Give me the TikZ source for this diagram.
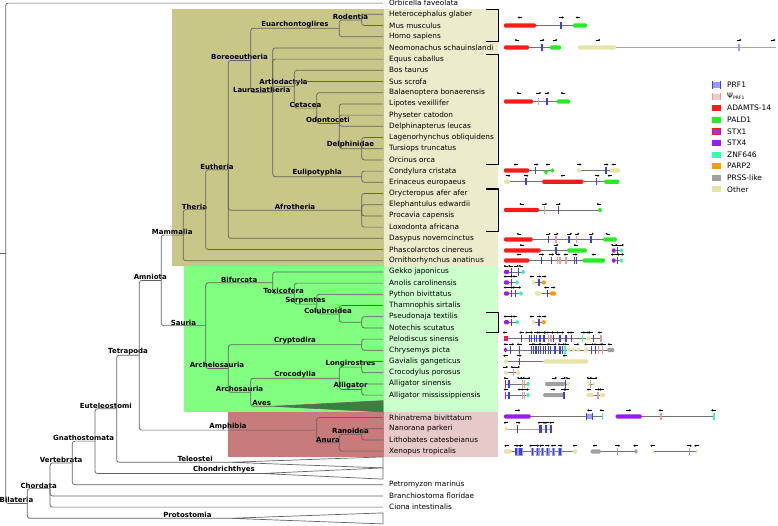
\documentclass[tikz,border=0pt]{standalone}
\usepackage{fontspec}
\setmainfont{DejaVu Sans}
\usetikzlibrary{calc,positioning,arrows.meta}
\definecolor{mamD}{HTML}{C9C787}
\definecolor{mamL}{HTML}{ECEBCB}
\definecolor{sauD}{HTML}{80FF80}
\definecolor{sauL}{HTML}{CCFFCC}
\definecolor{amphD}{HTML}{C77B7B}
\definecolor{amphL}{HTML}{E8C9C9}
\definecolor{avesC}{HTML}{3D7D3D}
\definecolor{prf}{HTML}{3C3CFF}
\definecolor{prfl}{HTML}{9A9AFF}
\definecolor{psi}{HTML}{E89A9A}
\definecolor{psil}{HTML}{F3CACA}
\definecolor{adam}{HTML}{FF1A1A}
\definecolor{pald}{HTML}{22EE22}
\definecolor{stxa}{HTML}{9933EE}
\definecolor{stxb}{HTML}{9A1AFF}
\definecolor{znf}{HTML}{33FFAA}
\definecolor{parp}{HTML}{FF9A00}
\definecolor{prss}{HTML}{A0A0A0}
\definecolor{oth}{HTML}{E6E4A6}
\newcommand{\gln}[3]{\draw[gline] (#1,#3) -- (#2,#3);}
\newcommand{\gbx}[4]{\fill[#1,rounded corners=1.2pt] (#2,#4-2.1) rectangle (#3,#4+2.1);}
\newcommand{\gmk}[3]{\fill[#1] (#2-0.75,#3-3.6) rectangle (#2+0.75,#3+3.6);}
\newcommand{\gR}[2]{\draw[garr] (#1-2.4,#2) -- (#1+2.4,#2);}
\newcommand{\gL}[2]{\draw[garr] (#1+2.4,#2) -- (#1-2.4,#2);}

\begin{document}
\begin{tikzpicture}[x=1pt,y=-1pt]
  \tikzset{br/.style={draw=black!62,line width=0.7pt,rounded corners=2.5pt},
    leaf/.style={anchor=west,inner xsep=6pt,inner ysep=0.5pt,font=\fontsize{7.3}{8}\selectfont},
    clab/.style={above=-0.4pt,inner sep=0.5pt,font=\fontsize{7}{8}\selectfont\bfseries},
    gline/.style={draw=black!55,line width=0.7pt},
    garr/.style={-{Latex[length=1.7pt,width=2.4pt]},line width=0.45pt},
    brk/.style={line width=1.3pt},
    tri/.style={draw=black!60,line width=0.7pt,fill=white},
    lgd/.style={anchor=west,inner sep=0.5pt,font=\fontsize{7.5}{8}\selectfont}}
  \useasboundingbox (0,0) rectangle (778,525);
  \fill[mamD] (172,8.7) rectangle (384,266.3);
  \fill[mamL] (384,8.7) rectangle (498,266.3);
  \fill[sauD] (183.5,266.3) rectangle (384,411.9);
  \fill[sauL] (384,266.3) rectangle (498,411.9);
  \fill[amphD] (228,411.9) rectangle (384,456.7);
  \fill[amphL] (384,411.9) rectangle (498,456.7);

  \node[leaf] (ofav) at (383,3.1) {Orbicella faveolata};
  \node[leaf] (hgla) at (383,14.3) {Heterocephalus glaber};
  \node[leaf] (mmus) at (383,25.5) {Mus musculus};
  \node[leaf] (hsap) at (383,36.7) {Homo sapiens};
  \node[leaf] (nsch) at (383,47.9) {Neomonachus schauinslandi};
  \node[leaf] (ecab) at (383,59.1) {Equus caballus};
  \node[leaf] (btau) at (383,70.3) {Bos taurus};
  \node[leaf] (sscr) at (383,81.5) {Sus scrofa};
  \node[leaf] (bbon) at (383,92.7) {Balaenoptera bonaerensis};
  \node[leaf] (lvex) at (383,103.9) {Lipotes vexillifer};
  \node[leaf] (pcat) at (383,115.1) {Physeter catodon};
  \node[leaf] (dleu) at (383,126.3) {Delphinapterus leucas};
  \node[leaf] (lobl) at (383,137.5) {Lagenorhynchus obliquidens};
  \node[leaf] (ttru) at (383,148.7) {Tursiops truncatus};
  \node[leaf] (oorc) at (383,159.9) {Orcinus orca};
  \node[leaf] (ccri) at (383,171.1) {Condylura cristata};
  \node[leaf] (eeur) at (383,182.3) {Erinaceus europaeus};
  \node[leaf] (oafe) at (383,193.5) {Orycteropus afer afer};
  \node[leaf] (eedw) at (383,204.7) {Elephantulus edwardii};
  \node[leaf] (pcap) at (383,215.9) {Procavia capensis};
  \node[leaf] (lafr) at (383,227.1) {Loxodonta africana};
  \node[leaf] (dnov) at (383,238.3) {Dasypus novemcinctus};
  \node[leaf] (pcin) at (383,249.5) {Phascolarctos cinereus};
  \node[leaf] (oana) at (383,260.7) {Ornithorhynchus anatinus};
  \node[leaf] (gjap) at (383,271.9) {Gekko japonicus};
  \node[leaf] (acar) at (383,283.1) {Anolis carolinensis};
  \node[leaf] (pbiv) at (383,294.3) {Python bivittatus};
  \node[leaf] (tsir) at (383,305.5) {Thamnophis sirtalis};
  \node[leaf] (ptex) at (383,316.7) {Pseudonaja textilis};
  \node[leaf] (nscu) at (383,327.9) {Notechis scutatus};
  \node[leaf] (psin) at (383,339.1) {Pelodiscus sinensis};
  \node[leaf] (cpic) at (383,350.3) {Chrysemys picta};
  \node[leaf] (ggan) at (383,361.5) {Gavialis gangeticus};
  \node[leaf] (cpor) at (383,372.7) {Crocodylus porosus};
  \node[leaf] (asin) at (383,383.9) {Alligator sinensis};
  \node[leaf] (amis) at (383,395.1) {Alligator mississippiensis};
  \node[leaf] (rbiv) at (383,417.5) {Rhinatrema bivittatum};
  \node[leaf] (npar) at (383,428.7) {Nanorana parkeri};
  \node[leaf] (lcat) at (383,439.9) {Lithobates catesbeianus};
  \node[leaf] (xtro) at (383,451.1) {Xenopus tropicalis};
  \node[leaf] (pmar) at (383,484.7) {Petromyzon marinus};
  \node[leaf] (bflo) at (383,495.9) {Branchiostoma floridae};
  \node[leaf] (cint) at (383,507.1) {Ciona intestinalis};

  \coordinate (stub) at (0,253.3);
  \coordinate (root) at (5.7,253.3);
  \coordinate (bila) at (27.3,503.5);
  \coordinate (chor) at (50,488.6);
  \coordinate (vert) at (72.3,462.9);
  \coordinate (gnat) at (95,441.1);
  \coordinate (eute) at (116.7,408.8);
  \coordinate (tetr) at (139.3,355.2);
  \coordinate (amni) at (161.2,280.4);
  \coordinate (mamm) at (183.3,235.1);
  \coordinate (ther) at (205.7,209.6);
  \coordinate (euth) at (228.3,169.7);
  \coordinate (bore) at (250.7,60.45);
  \coordinate (euar) at (339.3,28.3);
  \coordinate (rode) at (361.7,19.9);
  \coordinate (laur) at (272.7,92.6);
  \coordinate (arti) at (294.3,86.6);
  \coordinate (ceta) at (316.7,108.1);
  \coordinate (odon) at (339.3,123.5);
  \coordinate (delp) at (361.7,148.7);
  \coordinate (euli) at (361.7,176.7);
  \coordinate (afro) at (361.7,210.3);
  \coordinate (saur) at (205.7,325.6);
  \coordinate (bifu) at (272.7,282.75);
  \coordinate (toxi) at (294.3,293.6);
  \coordinate (serp) at (316.7,304.1);
  \coordinate (colu) at (339.3,313.9);
  \coordinate (elap) at (361.7,322.3);
  \coordinate (arch) at (228.3,368.5);
  \coordinate (cryp) at (361.7,344.7);
  \coordinate (arco) at (250.7,392.3);
  \coordinate (croc) at (339.3,378.3);
  \coordinate (long) at (361.7,367.1);
  \coordinate (alli) at (361.7,389.5);
  \coordinate (aves) at (272.7,406.3);
  \coordinate (amph) at (316.7,430.1);
  \coordinate (anur) at (339.3,442.7);
  \coordinate (rano) at (361.7,434.3);
  \coordinate (tele) at (230,462.3);
  \coordinate (chon) at (262,473.5);
  \coordinate (prot) at (230,518.3);

  \draw[tri,fill=avesC] (aves) -- (383,400.7) -- (383,411.9) -- cycle;
  \draw[tri] (tele) -- (383,456.9) -- (383,467.9) -- cycle;
  \draw[tri] (chon) -- (383,467.9) -- (383,479.1) -- cycle;
  \draw[tri] (prot) -- (383,512.9) -- (383,523.9) -- cycle;

  \draw[br] (stub) -- (root);
  \draw[br] (root) |- (ofav);
  \draw[br] (root) |- node[clab,pos=0.75]{Bilateria} (bila);
  \draw[br] (bila) |- node[clab,pos=0.75]{Chordata} (chor);
  \draw[br] (bila) |- node[clab,pos=0.895]{Protostomia} (prot);
  \draw[br] (chor) |- node[clab,pos=0.75]{Vertebrata} (vert);
  \draw[br] (chor) |- (bflo);
  \draw[br] (chor) |- (cint);
  \draw[br] (vert) |- node[clab,pos=0.75]{Gnathostomata} (gnat);
  \draw[br] (vert) |- (pmar);
  \draw[br] (gnat) |- node[clab,pos=0.75]{Euteleostomi} (eute);
  \draw[br] (gnat) |- node[clab,pos=0.886]{Chondrichthyes} (chon);
  \draw[br] (eute) |- node[clab,pos=0.75]{Tetrapoda} (tetr);
  \draw[br] (eute) |- node[clab,pos=0.846]{Teleostei} (tele);
  \draw[br] (tetr) |- node[clab,pos=0.75]{Amniota} (amni);
  \draw[br] (tetr) |- node[clab,pos=0.75]{Amphibia} (amph);
  \draw[br] (amni) |- node[clab,pos=0.75]{Mammalia} (mamm);
  \draw[br] (amni) |- node[clab,pos=0.75]{Sauria} (saur);
  \draw[br] (mamm) |- node[clab,pos=0.75]{Theria} (ther);
  \draw[br] (mamm) |- (oana);
  \draw[br] (ther) |- node[clab,pos=0.75]{Eutheria} (euth);
  \draw[br] (ther) |- (pcin);
  \draw[br] (euth) |- node[clab,pos=0.75]{Boreoeutheria} (bore);
  \draw[br] (euth) |- node[clab,pos=0.75]{Afrotheria} (afro);
  \draw[br] (euth) |- (dnov);
  \draw[br] (bore) |- node[clab,pos=0.75]{Euarchontoglires} (euar);
  \draw[br] (bore) |- node[clab,pos=0.75]{Laurasiatheria} (laur);
  \draw[br] (euar) |- node[clab,pos=0.75]{Rodentia} (rode);
  \draw[br] (euar) |- (hsap);
  \draw[br] (rode) |- (hgla);
  \draw[br] (rode) |- (mmus);
  \draw[br] (laur) |- (nsch);
  \draw[br] (laur) |- (ecab);
  \draw[br] (laur) |- node[clab,pos=0.75]{Artiodactyla} (arti);
  \draw[br] (laur) |- node[clab,pos=0.75]{Eulipotyphla} (euli);
  \draw[br] (arti) |- (btau);
  \draw[br] (arti) |- (sscr);
  \draw[br] (arti) |- node[clab,pos=0.75]{Cetacea} (ceta);
  \draw[br] (ceta) |- (bbon);
  \draw[br] (ceta) |- node[clab,pos=0.75]{Odontoceti} (odon);
  \draw[br] (odon) |- (lvex);
  \draw[br] (odon) |- (pcat);
  \draw[br] (odon) |- (dleu);
  \draw[br] (odon) |- node[clab,pos=0.75]{Delphinidae} (delp);
  \draw[br] (delp) |- (lobl);
  \draw[br] (delp) |- (ttru);
  \draw[br] (delp) |- (oorc);
  \draw[br] (euli) |- (ccri);
  \draw[br] (euli) |- (eeur);
  \draw[br] (afro) |- (oafe);
  \draw[br] (afro) |- (eedw);
  \draw[br] (afro) |- (pcap);
  \draw[br] (afro) |- (lafr);
  \draw[br] (saur) |- node[clab,pos=0.75]{Bifurcata} (bifu);
  \draw[br] (saur) |- node[clab,pos=0.75]{Archelosauria} (arch);
  \draw[br] (bifu) |- (gjap);
  \draw[br] (bifu) |- node[clab,pos=0.75]{Toxicofera} (toxi);
  \draw[br] (toxi) |- (acar);
  \draw[br] (toxi) |- node[clab,pos=0.75]{Serpentes} (serp);
  \draw[br] (serp) |- (pbiv);
  \draw[br] (serp) |- node[clab,pos=0.75]{Colubroidea} (colu);
  \draw[br] (colu) |- (tsir);
  \draw[br] (colu) |- (elap);
  \draw[br] (elap) |- (ptex);
  \draw[br] (elap) |- (nscu);
  \draw[br] (arch) |- node[clab,pos=0.75]{Cryptodira} (cryp);
  \draw[br] (arch) |- node[clab,pos=0.75]{Archosauria} (arco);
  \draw[br] (cryp) |- (psin);
  \draw[br] (cryp) |- (cpic);
  \draw[br] (arco) |- node[clab,pos=0.75]{Crocodylia} (croc);
  \draw[br] (arco) |- node[clab,pos=0.75]{Aves} (aves);
  \draw[br] (croc) |- node[clab,pos=0.75]{Longirostres} (long);
  \draw[br] (croc) |- node[clab,pos=0.75]{Alligator} (alli);
  \draw[br] (long) |- (ggan);
  \draw[br] (long) |- (cpor);
  \draw[br] (alli) |- (asin);
  \draw[br] (alli) |- (amis);
  \draw[br] (amph) |- (rbiv);
  \draw[br] (amph) |- node[clab,pos=0.75]{Anura} (anur);
  \draw[br] (anur) |- node[clab,pos=0.75]{Ranoidea} (rano);
  \draw[br] (anur) |- (xtro);
  \draw[br] (rano) |- (npar);
  \draw[br] (rano) |- (lcat);

  \draw[brk] (486,9.8) -- (498.5,9.8) -- (498.5,41.2) -- (486,41.2);
  \draw[brk] (486,54.6) -- (498.5,54.6) -- (498.5,164.4) -- (486,164.4);
  \draw[brk] (486,189) -- (498.5,189) -- (498.5,231.6) -- (486,231.6);
  \draw[brk] (486,312.2) -- (498.5,312.2) -- (498.5,332.4) -- (486,332.4);

  \gln{504}{587}{25.5}
  \gbx{adam}{504}{536}{25.5}\gmk{prf}{561}{25.5}\gbx{pald}{573}{587}{25.5}
  \gL{520}{17.5}\gR{561.5}{17.5}\gL{578}{17.5}

  \gln{504}{561}{47.5}
  \draw[gline,draw=black!35] (578,47.5) -- (776,47.5);
  \gbx{adam}{504}{529}{47.5}\gmk{prf}{542}{47.5}\gbx{pald}{550}{561}{47.5}
  \gbx{oth}{578}{616}{47.5}\gmk{prfl}{739}{47.5}
  \gL{517}{40}\gR{542}{40}\gR{555}{40}\gR{598}{40}\gR{739}{40}\gR{773}{40}

  \gln{504}{570}{101.5}
  \gbx{adam}{504}{533}{101.5}\gmk{psi}{538.7}{101.5}\gmk{prf}{547}{101.5}\gbx{pald}{556.7}{570}{101.5}
  \gL{519}{93}\gR{538.7}{93}\gR{547}{93}\gL{563}{93}

  \gln{504}{553}{170.5}
  \gbx{adam}{504}{529.3}{170.5}\gmk{prf}{535.7}{170.5}
  \fill[pald] (543,170.5) -- (549,170.5) -- (546,175) -- cycle;
  \gbx{pald}{551}{554}{170.5}
  \gln{577}{620}{170.5}
  \gbx{oth}{577}{581}{170.5}\gmk{prf}{606}{170.5}\gbx{oth}{610}{620}{170.5}
  \gL{516}{164.5}\gR{536}{164.5}\gL{548}{164.5}\gR{579}{164.5}\gR{606}{164.5}\gL{614}{164.5}

  \gln{504}{619}{181.7}
  \gbx{oth}{504}{510}{181.7}\gmk{prf}{526}{181.7}\gbx{adam}{542.3}{583.3}{181.7}
  \gmk{prf}{596.7}{181.7}\gbx{pald}{604.3}{619.3}{181.7}
  \gR{508}{175.7}\gR{526}{175.7}\gL{563}{175.7}\gR{597}{175.7}\gL{610}{175.7}

  \gln{504}{601.7}{210}
  \gbx{adam}{504}{539}{210}\gmk{psi}{544.3}{210}\gmk{prf}{558.3}{210}\gbx{pald}{598.3}{601.7}{210}
  \gL{521.7}{204}\gR{544.7}{204}\gR{558.3}{204}\gL{599}{204}

  \gln{504}{616.7}{239.5}
  \gbx{adam}{504}{532.7}{239.5}\gmk{prf}{548.3}{239.5}\gmk{psi}{556}{239.5}\gmk{prf}{569}{239.5}
  \gmk{psi}{576.7}{239.5}\gmk{prf}{591}{239.5}\gbx{pald}{603.3}{616.7}{239.5}
  \gL{519}{233.8}\gR{548.3}{233.8}\gR{556}{233.8}\gR{569.7}{233.8}\gR{577}{233.8}\gR{591.3}{233.8}\gL{608}{233.8}

  \gln{504}{587}{250.5}
  \gbx{adam}{504}{540.7}{250.5}\gmk{prf}{556}{250.5}\gbx{pald}{567.3}{586.7}{250.5}
  \gln{612}{623}{250.5}
  \gbx{stxb}{612}{615.5}{250.5}\gmk{prf}{617.5}{250.5}\gbx{znf}{620}{623}{250.5}
  \gL{522}{245}\gR{556}{245}\gL{576}{245}\gL{613.5}{245}\gL{617.5}{245}\gR{621.5}{245}

  \gln{504}{605}{260.5}
  \gbx{adam}{504}{529.3}{260.5}\gmk{prf}{541.7}{260.5}\gmk{prf}{551.7}{260.5}\gmk{psi}{557.7}{260.5}
  \gmk{psi}{560}{260.5}\gmk{psi}{566}{260.5}\gmk{prf}{574.3}{260.5}\gmk{prf}{576.5}{260.5}
  \gbx{pald}{582.7}{605}{260.5}
  \gln{612}{623}{260.5}
  \gbx{stxb}{612}{615.5}{260.5}\gmk{prf}{617.5}{260.5}\gbx{znf}{620}{623}{260.5}
  \gL{519}{254.5}\gR{541.7}{254.5}\gR{551.7}{254.5}\gR{558}{254.5}\gL{566}{254.5}\gR{575}{254.5}\gL{594}{254.5}
  \gL{613.5}{254.5}\gR{617.5}{254.5}\gR{621.5}{254.5}

  \gln{504}{524.5}{271.9}
  \gbx{stxb}{504}{509}{271.9}\gmk{prf}{511.7}{271.9}\gmk{prf}{518.3}{271.9}\gbx{znf}{521.5}{524.5}{271.9}
  \gL{506}{266}\gL{510.5}{266}\gR{516.5}{266}\gL{521}{266}

  \gln{504}{518.5}{282.5}
  \gbx{stxb}{504}{509}{282.5}\gmk{prf}{511.7}{282.5}\gbx{znf}{515.5}{518.5}{282.5}
  \gln{532}{545.5}{282.5}
  \gbx{oth}{532}{535}{282.5}\gmk{prf}{539}{282.5}\gbx{parp}{541.7}{545.5}{282.5}
  \gL{506}{276.5}\gR{510.5}{276.5}\gL{515}{276.5}\gL{532}{276.5}\gR{539}{276.5}\gR{544}{276.5}

  \gln{504}{522.5}{293.5}
  \gbx{stxb}{504}{509}{293.5}\gmk{prf}{511.7}{293.5}\gmk{prf}{515.7}{293.5}\gbx{znf}{519.3}{522.5}{293.5}
  \gln{535}{556}{293.5}
  \gbx{oth}{535}{541.7}{293.5}\gmk{prf}{547.3}{293.5}\gbx{parp}{550}{556}{293.5}
  \gL{506}{287.5}\gR{510.5}{287.5}\gL{514.5}{287.5}\gR{518.5}{287.5}\gL{546.5}{287.5}\gR{553}{287.5}

  \gln{504}{518.5}{322.3}
  \gbx{stxb}{504}{509}{322.3}\gmk{prf}{511.7}{322.3}\gbx{znf}{515.5}{518.5}{322.3}
  \gln{532}{545.5}{322.3}
  \gbx{oth}{532}{535}{322.3}\gmk{prf}{539}{322.3}\gbx{parp}{541.7}{545.5}{322.3}
  \gL{506}{316.5}\gR{510.5}{316.5}\gL{515}{316.5}\gL{532}{316.5}\gR{539}{316.5}\gR{544}{316.5}

  \gln{504}{601}{338.5}
  \filldraw[fill=stxa,draw=adam,line width=0.5pt] (504.3,336.6) rectangle (507.3,340.4);
  \foreach \px in {521.7,529.3,531.7,534.3,536.7,540,544,553.3,560,566,571.7,593.3}
    {\gmk{prf}{\px}{338.5}}
  \gmk{psi}{548.3}{338.5}\gmk{psi}{551}{338.5}\gmk{znf}{582.7}{338.5}
  \gbx{oth}{586}{590.5}{338.5}\gmk{psi}{601}{338.5}
  \foreach \px in {505,521.7,527.7,540,546,548.8,553.6,558.3,569.3,572,590.5,600}
    {\gL{\px}{332.5}}
  \foreach \px in {530.5,536.7,543.3,551.3,561.7,583,587}
    {\gR{\px}{332.5}}

  \gln{504}{614.3}{350}
  \gbx{stxb}{504}{507}{350}
  \foreach \px in {510.7,519.3,531.7,533.5,536,538.3,540.3,543.3,545.3,548.3,550.3,555,560,562.7,591.7,595.5}
    {\gmk{prf}{\px}{350}}
  \gmk{znf}{565}{350}\gbx{oth}{567}{570}{350}\gbx{oth}{572}{575}{350}\gbx{oth}{576.5}{579.5}{350}
  \gbx{oth}{584}{588}{350}\gmk{psi}{598.5}{350}\gmk{psi}{602.7}{350}\gbx{prss}{607.3}{614.3}{350}
  \foreach \px in {506,519.3,535,541.7,550,560,566.7,586.7,596,603.3,610}
    {\gL{\px}{344.3}}
  \foreach \px in {511.7,531.7,538.3,546.7,554.3,562.7,576.7,591.7,600}
    {\gR{\px}{344.3}}

  \gln{504}{588.3}{361.5}
  \gbx{oth}{504}{507.5}{361.5}\gmk{prf}{519.3}{361.5}\gbx{oth}{543.3}{588.3}{361.5}
  \gL{505.5}{355.7}\gR{519}{355.7}\gL{565}{355.7}

  \gln{504}{520}{372.7}
  \gbx{oth}{504}{507.5}{372.7}\gmk{psi}{513.3}{372.7}\gbx{oth}{516}{520}{372.7}
  \gR{505.5}{367}\gL{513}{367}\gR{517.5}{367}

  \gln{505}{529}{383.9}
  \gmk{stxb}{505.5}{383.9}\gmk{prf}{509}{383.9}\gmk{psi}{522.3}{383.9}\gmk{psi}{524.5}{383.9}
  \gbx{znf}{526.5}{529.5}{383.9}
  \gln{545}{569}{383.9}
  \gbx{prss}{545}{565}{383.9}\gmk{prf}{565.5}{383.9}\gbx{oth}{566.5}{569.5}{383.9}
  \gln{588}{594}{383.9}
  \gbx{oth}{587.5}{589.5}{383.9}\gmk{psi}{590.7}{383.9}\gbx{oth}{592.5}{594.5}{383.9}
  \gL{506}{378}\gL{519.5}{378}\gL{522.5}{378}\gL{525}{378}\gR{528}{378}\gR{554.5}{378}
  \gR{563.5}{378}\gL{568}{378}\gL{589}{378}\gL{592}{378}\gR{595}{378}

  \gln{505}{529}{395.1}
  \gmk{stxb}{505.5}{395.1}\gmk{prf}{509}{395.1}\gmk{psi}{522.3}{395.1}\gmk{psi}{524.5}{395.1}
  \gbx{znf}{526.5}{529.5}{395.1}
  \gln{543.3}{564}{395.1}
  \gbx{prss}{543.3}{563.3}{395.1}\gmk{prf}{564}{395.1}
  \gln{586.7}{605}{395.1}
  \gbx{oth}{586.7}{593.3}{395.1}\gmk{psi}{598}{395.1}\gbx{oth}{600}{605}{395.1}
  \gL{506}{389.5}\gL{520}{389.5}\gL{523}{389.5}\gR{526.5}{389.5}\gR{553}{389.5}\gR{563.5}{389.5}
  \gL{566.5}{389.5}\gL{589}{389.5}\gR{597.5}{389.5}\gL{601.5}{389.5}

  \gln{504}{603}{416.5}
  \gbx{stxb}{504}{530.7}{416.5}
  \fill[prfl] (586,413.6) rectangle (593.3,419.4);
  \fill[prf] (586,412.9) rectangle (587,420.1);
  \fill[prf] (592.3,412.9) rectangle (593.3,420.1);
  \gmk{znf}{602.7}{416.5}
  \gln{615.7}{714}{416.5}
  \gbx{stxb}{615.7}{641.7}{416.5}\gmk{psi}{661}{416.5}\gmk{znf}{714}{416.5}
  \gR{517.7}{410.3}\gL{589.5}{410.3}\gL{602}{410.3}\gR{628.7}{410.3}\gL{661}{410.3}\gL{713.5}{410.3}

  \draw[gline,draw=black!35] (506,429) -- (552,429);
  \gbx{oth}{504.5}{507.5}{429}
  \foreach \px in {517.7,540,541.7,546,551}
    {\gmk{prf}{\px}{429}}
  \gL{506}{422.7}\gR{518}{422.7}\gL{540}{422.7}\gR{543}{422.7}\gL{547}{422.7}\gL{551.7}{422.7}

  \gln{504}{577.3}{451.5}
  \gbx{oth}{504}{511.7}{451.5}
  \fill[prfl] (514.5,447.5) rectangle (522.5,455.5);
  \foreach \px in {532.3,537.7,542.3,547.7,553.3,560}
    {\fill[prfl] (\px-1.8,447.5) rectangle (\px+1.8,455.5);}
  \foreach \px in {516,519.3,521,532.3,537.7,542.3,547.7,553.3,560}
    {\gmk{prf}{\px}{451.5}}
  \gbx{oth}{572.7}{577.3}{451.5}
  \gln{590.7}{636}{451.5}
  \gbx{prss}{590.7}{600.7}{451.5}\gmk{prfl}{617.7}{451.5}\gbx{prss}{634.5}{637.5}{451.5}
  \gln{653}{697}{451.5}
  \gbx{oth}{652.3}{654.3}{451.5}\gmk{prfl}{689.3}{451.5}\gbx{oth}{695.7}{697.7}{451.5}
  \foreach \px in {506.7,521,531.7,541.7,553.3,575,595,635.7,652.7,696.7}
    {\gL{\px}{445.7}}
  \foreach \px in {516,519.3,536.7,547.3,560,617.7,689.3}
    {\gR{\px}{445.7}}

  \fill[prfl] (711.5,82) rectangle (721,88);
  \fill[prf] (711.5,81.3) rectangle (712.6,88.7);
  \fill[prf] (719.9,81.3) rectangle (721,88.7);
  \fill[psil] (711.5,93.6) rectangle (721,99.6);
  \fill[psi] (711.5,92.9) rectangle (712.6,100.3);
  \fill[psi] (719.9,92.9) rectangle (721,100.3);
  \fill[adam] (711.5,105.2) rectangle (721,111.2);
  \fill[pald] (711.5,116.8) rectangle (721,122.8);
  \filldraw[fill=stxa,draw=adam,line width=0.6pt] (711.8,128.7) rectangle (720.7,134.1);
  \fill[stxb] (711.5,140) rectangle (721,146);
  \fill[znf] (711.5,151.6) rectangle (721,157.6);
  \fill[parp] (711.5,163.2) rectangle (721,169.2);
  \fill[prss] (711.5,174.8) rectangle (721,180.8);
  \fill[oth] (711.5,186.4) rectangle (721,192.4);
  \node[lgd] (lg1) at (726.5,85) {PRF1};
  \node[lgd] (lg2) at (726.5,96.6) {Ψ\raisebox{-0.8pt}{\fontsize{4.5}{5}\selectfont PRF1}};
  \node[lgd] (lg3) at (726.5,108.2) {ADAMTS-14};
  \node[lgd] (lg4) at (726.5,119.8) {PALD1};
  \node[lgd] (lg5) at (726.5,131.4) {STX1};
  \node[lgd] (lg6) at (726.5,143) {STX4};
  \node[lgd] (lg7) at (726.5,154.6) {ZNF646};
  \node[lgd] (lg8) at (726.5,166.2) {PARP2};
  \node[lgd] (lg9) at (726.5,177.8) {PRSS-like};
  \node[lgd] (lg10) at (726.5,189.4) {Other};
\end{tikzpicture}
\end{document}
